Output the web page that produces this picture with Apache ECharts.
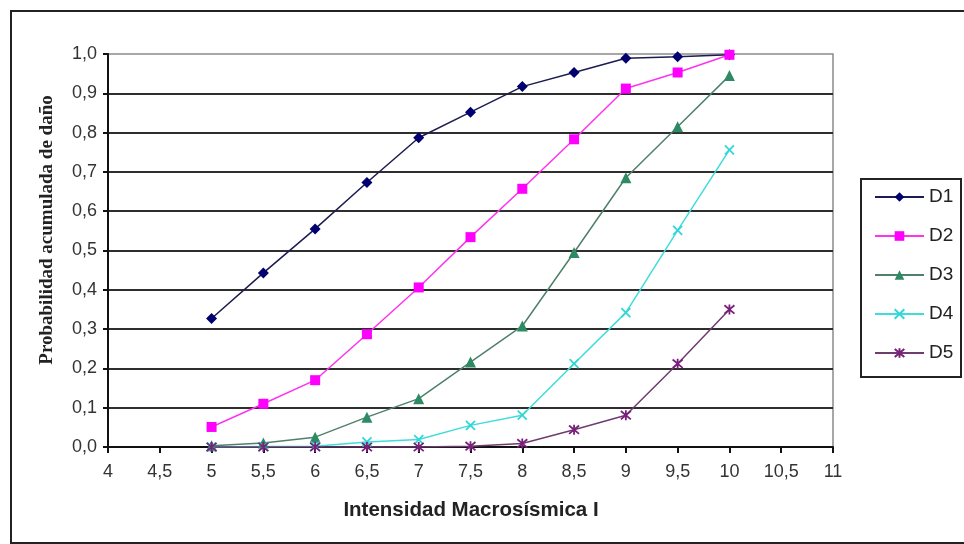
<!DOCTYPE html>
<html>
<head>
<meta charset="utf-8">
<script src="https://cdn.jsdelivr.net/npm/echarts@6/dist/echarts.min.js"></script>
<style>
html,body{margin:0;padding:0;background:#fff;}
#chart{width:964px;height:544px;}
</style>
</head>
<body>
<div id="chart"></div>
<script>
const intensities = [5, 5.5, 6, 6.5, 7, 7.5, 8, 8.5, 9, 9.5, 10];
const D1 = [0.327, 0.443, 0.555, 0.673, 0.787, 0.852, 0.917, 0.953, 0.989, 0.993, 0.998];
const D2 = [0.051, 0.110, 0.170, 0.287, 0.406, 0.534, 0.657, 0.783, 0.912, 0.953, 0.998];
const D3 = [0.003, 0.010, 0.025, 0.076, 0.123, 0.216, 0.308, 0.495, 0.685, 0.815, 0.945];
const D4 = [0.000, 0.001, 0.002, 0.013, 0.019, 0.055, 0.081, 0.212, 0.342, 0.551, 0.756];
const D5 = [0.000, 0.000, 0.000, 0.000, 0.000, 0.002, 0.009, 0.044, 0.081, 0.212, 0.350];
const seriesNames = ['D1', 'D2', 'D3', 'D4', 'D5'];
const xTitle = 'Intensidad Macrosísmica I';
const yTitle = 'Probabilidad acumulada de daño';

const chart = echarts.init(document.getElementById('chart'), null, {renderer: 'canvas'});
const pair = arr => intensities.map((x, i) => [x, arr[i]]);
const comma = (v, d) => (d ? v.toFixed(d) : String(v)).replace('.', ',');

const styles = [
  {symbol: 'diamond', size: 11, color: '#000070', line: '#1c1c50'},
  {symbol: 'rect', size: 10, color: '#ff00ff', line: '#ff33ee'},
  {symbol: 'triangle', size: 11, color: '#2e8a64', line: '#4f806a'},
  {symbol: 'path://M0,0L10,10M10,0L0,10', size: 9, color: '#33d6d6', line: '#40dcdc', stroke: true},
  {symbol: 'path://M0,0L10,10M10,0L0,10M5,-1L5,11', size: 10, color: '#7a1f7a', line: '#6e3c6e', stroke: true}
];
const datasets = [D1, D2, D3, D4, D5];

const series = datasets.map((arr, k) => {
  const s = styles[k];
  return {
    name: seriesNames[k],
    type: 'line',
    data: pair(arr),
    symbol: s.symbol,
    symbolSize: s.size,
    showAllSymbol: true,
    animation: false,
    lineStyle: {color: s.line, width: 1.5},
    itemStyle: s.stroke
      ? {color: s.color, borderColor: s.color, borderWidth: 1.8}
      : {color: s.color, borderWidth: 0}
  };
});

const option = {
  backgroundColor: '#ffffff',
  animation: false,
  grid: {
    left: 108, top: 54, width: 725, height: 393,
    show: true, borderColor: '#8a8a8a', borderWidth: 1.5, backgroundColor: 'transparent'
  },
  xAxis: {
    type: 'value', min: 4, max: 11, interval: 0.5,
    axisLine: {show: true, lineStyle: {color: '#111', width: 2}},
    axisTick: {show: true, length: 6, inside: false, lineStyle: {color: '#111', width: 2}},
    axisLabel: {
      margin: 16, fontSize: 18, color: '#333', fontFamily: 'Liberation Sans, Arial, sans-serif',
      formatter: v => comma(v, 0)
    },
    splitLine: {show: false}
  },
  yAxis: {
    type: 'value', min: 0, max: 1, interval: 0.1,
    axisLine: {show: true, lineStyle: {color: '#111', width: 2}},
    axisTick: {show: true, length: 5, inside: false, lineStyle: {color: '#111', width: 2}},
    axisLabel: {
      margin: 11, fontSize: 18, color: '#333', fontFamily: 'Liberation Sans, Arial, sans-serif',
      formatter: v => comma(v, 1)
    },
    splitLine: {show: true, showMaxLine: false, lineStyle: {color: '#2e2e2e', width: 2}}
  },
  legend: {
    orient: 'vertical',
    left: 874, top: 187,
    padding: 0,
    itemWidth: 49, itemHeight: 12, itemGap: 19,
    data: seriesNames,
    textStyle: {fontSize: 19, lineHeight: 20, color: '#222', fontFamily: 'Liberation Sans, Arial, sans-serif'},
    selectedMode: false
  },
  graphic: [
    {type: 'rect', z: -10, silent: true,
     shape: {x: 11, y: 11, width: 1000, height: 532},
     style: {fill: 'none', stroke: '#222', lineWidth: 2}},
    {type: 'rect', z: -10, silent: true,
     shape: {x: 861, y: 179, width: 100, height: 198},
     style: {fill: '#fff', stroke: '#222', lineWidth: 2}},
    {type: 'text', silent: true, x: 471, y: 510,
     style: {text: xTitle, fontSize: 20.5, fontWeight: 'bold', fill: '#222',
             fontFamily: 'Liberation Sans, Arial, sans-serif', align: 'center', verticalAlign: 'middle'}},
    {type: 'text', silent: true, x: 47, y: 230, rotation: Math.PI / 2,
     style: {text: yTitle, fontSize: 19, fontWeight: 'bold', fill: '#222',
             fontFamily: 'Liberation Serif, Times New Roman, serif', align: 'center', verticalAlign: 'middle'}}
  ],
  series: series
};
chart.setOption(option);
</script>
</body>
</html>
